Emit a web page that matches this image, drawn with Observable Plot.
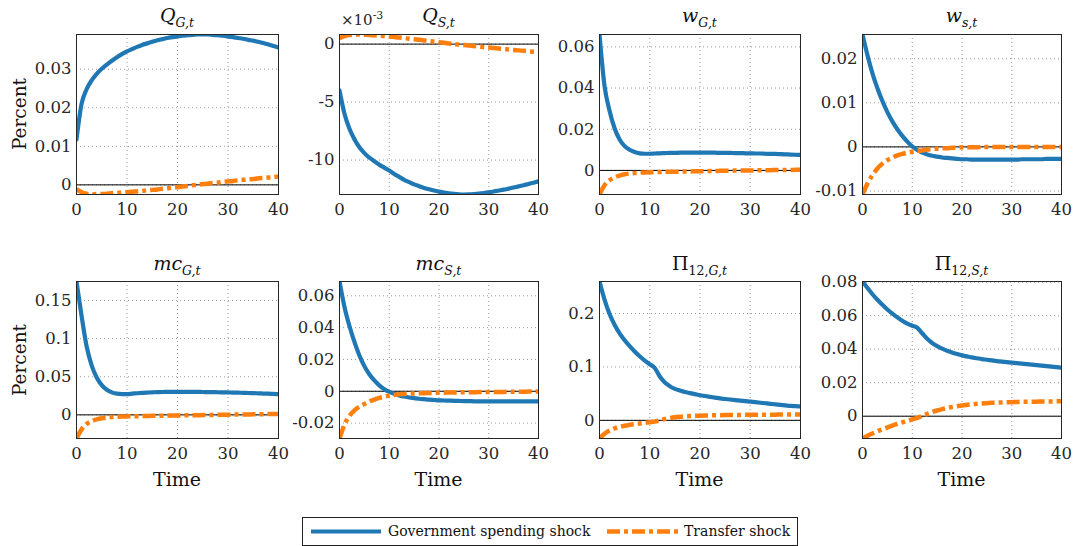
<!DOCTYPE html>
<html>
<head>
<meta charset="utf-8">
<script src="https://cdn.jsdelivr.net/npm/d3@7"></script>
<script src="https://cdn.jsdelivr.net/npm/@observablehq/plot@0.6"></script>
<style>
  html, body { margin: 0; padding: 0; background: #fff; }
  #wrap { position: relative; width: 1075px; height: 546px; background: #fff; overflow: hidden; font-family: "DejaVu Serif", serif; color: #262626; }
  .panel { position: absolute; }
  .ttl { position: absolute; transform: translateX(-50%); font-size: 19px; line-height: 24px; white-space: nowrap; color: #111; }
  .ttl i { font-style: italic; }
  .ttl sub { font-size: 12.5px; vertical-align: -5px; line-height: 0; }
  .ylab { position: absolute; font-size: 18.5px; transform: translate(-50%, -50%) rotate(-90deg); white-space: nowrap; color: #111; }
  .xlab { position: absolute; font-size: 19px; transform: translate(-50%, -50%); white-space: nowrap; color: #111; }
  .expo { position: absolute; font-size: 15px; white-space: nowrap; color: #262626; }
  .expo sup { font-size: 11px; vertical-align: 6px; line-height: 0; }
  #legend { position: absolute; left: 302px; top: 517px; width: 496px; height: 29px; box-sizing: border-box; border: 1px solid #222; background: #fff; font-size: 14px; color: #111; }
  #legend span { position: absolute; top: 5px; white-space: nowrap; }
  #legend svg { position: absolute; top: 0; left: 0; }
</style>
</head>
<body>
<div id="wrap"></div>
<script>
// ---------- data ----------
const periods = [0,1,2,3,4,5,6,7,8,9,10,11,12,13,14,15,16,17,18,19,20,21,22,23,24,25,26,27,28,29,30,31,32,33,34,35,36,37,38,39,40];
const xTicks = [0, 10, 20, 30, 40];
const seriesNames = ["Government spending shock", "Transfer shock"];

const qG_gov = [.0118,.0210,.0248,.0271,.0288,.0301,.0312,.0322,.0331,.0339,.0346,.0352,.0358,.0363,.0367,.0371,.0375,.0378,.0381,.0383,.0385,.0387,.0388,.0389,.0390,.0390,.0390,.0389,.0388,.0387,.0385,.0383,.0381,.0379,.0376,.0374,.0371,.0368,.0364,.0360,.0356];
const qG_tr = [-.0011,-.0019,-.0023,-.0025,-.0024,-.0024,-.0023,-.0022,-.0021,-.0020,-.0019,-.0018,-.0017,-.0016,-.0014,-.0013,-.0012,-.0010,-.0009,-.0007,-.0006,-.0004,-.0003,-.0001,.0000,.0002,.0003,.0005,.0006,.0008,.0009,.0010,.0012,.0013,.0014,.0015,.0017,.0018,.0019,.0020,.0022];

// Q_S in units of 10^-3
const qS_gov = [-4.0,-6.0,-7.3,-8.2,-8.9,-9.4,-9.8,-10.1,-10.4,-10.65,-10.9,-11.2,-11.45,-11.7,-11.9,-12.1,-12.25,-12.4,-12.52,-12.63,-12.72,-12.8,-12.86,-12.91,-12.95,-12.97,-12.96,-12.93,-12.89,-12.84,-12.78,-12.71,-12.63,-12.55,-12.46,-12.37,-12.27,-12.17,-12.06,-11.95,-11.84];
const qS_tr = [.50,.70,.79,.83,.83,.81,.79,.76,.73,.69,.65,.61,.57,.52,.47,.42,.37,.32,.27,.21,.16,.11,.06,.01,-.04,-.08,-.13,-.17,-.22,-.26,-.30,-.34,-.38,-.42,-.46,-.50,-.54,-.58,-.62,-.66,-.70];

const wG_gov = [.0660,.0410,.0290,.0205,.0150,.0118,.0100,.0089,.0083,.0081,.0081,.0082,.0083,.0084,.0085,.0085,.0086,.0086,.0086,.0086,.0086,.0086,.0086,.0086,.0085,.0085,.0085,.0084,.0084,.0083,.0083,.0082,.0082,.0081,.0080,.0080,.0079,.0078,.0077,.0076,.0075];
const wG_tr = [-.0117,-.0072,-.0048,-.0034,-.0025,-.0019,-.0015,-.0013,-.0011,-.0010,-.0009,-.0008,-.0008,-.0007,-.0007,-.0006,-.0006,-.0005,-.0005,-.0004,-.0004,-.0004,-.0003,-.0003,-.0002,-.0002,-.0002,-.0001,-.0001,.0000,.0000,.0000,.0001,.0001,.0001,.0002,.0002,.0002,.0002,.0003,.0003];

const ws_gov = [.0255,.0208,.0167,.0133,.0104,.0079,.0058,.0040,.0025,.0012,.0001,-.0007,-.0013,-.0017,-.0020,-.0022,-.0024,-.0025,-.0026,-.0027,-.0028,-.0028,-.0029,-.0029,-.0029,-.0029,-.0029,-.0029,-.0029,-.0029,-.0029,-.0029,-.0028,-.0028,-.0028,-.0028,-.0028,-.0027,-.0027,-.0027,-.0027];
const ws_tr = [-.0108,-.0083,-.0064,-.0049,-.0038,-.0030,-.0024,-.0019,-.0016,-.0013,-.0011,-.0009,-.0008,-.0006,-.0005,-.0004,-.0003,-.0003,-.0002,-.0002,-.0001,-.0001,-.0001,-.0001,.0000,.0000,.0000,.0000,.0000,.0000,.0000,.0000,.0000,.0000,.0000,.0000,.0000,.0000,.0000,.0000,.0000];

const mcG_gov = [.175,.130,.090,.065,.049,.039,.033,.0295,.0278,.0272,.0273,.0278,.0284,.0289,.0293,.0296,.0298,.0300,.0301,.0302,.0302,.0302,.0302,.0302,.0301,.0300,.0299,.0298,.0297,.0296,.0294,.0293,.0291,.0289,.0287,.0285,.0283,.0280,.0278,.0275,.0272];
const mcG_tr = [-.031,-.019,-.012,-.0082,-.0058,-.0044,-.0035,-.0029,-.0025,-.0022,-.0020,-.0018,-.0017,-.0015,-.0014,-.0013,-.0012,-.0011,-.0010,-.0009,-.0008,-.0007,-.0006,-.0005,-.0004,-.0003,-.0002,-.0001,.0000,.0001,.0002,.0003,.0004,.0005,.0006,.0007,.0008,.0009,.0010,.0010,.0011];

const mcS_gov = [.069,.053,.041,.031,.0225,.0158,.0107,.0068,.0037,.0013,-.0004,-.0016,-.0026,-.0033,-.0039,-.0043,-.0047,-.0050,-.0053,-.0055,-.0057,-.0058,-.0059,-.0060,-.0061,-.0062,-.0062,-.0063,-.0063,-.0064,-.0064,-.0064,-.0064,-.0064,-.0064,-.0064,-.0064,-.0064,-.0064,-.0064,-.0063];
const mcS_tr = [-.0297,-.0210,-.0155,-.0120,-.0097,-.0080,-.0064,-.0052,-.0042,-.0034,-.0028,-.0023,-.0019,-.0017,-.0015,-.0014,-.0013,-.0012,-.0011,-.0010,-.0009,-.0009,-.0008,-.0008,-.0007,-.0007,-.0006,-.0006,-.0005,-.0005,-.0005,-.0004,-.0004,-.0004,-.0003,-.0003,-.0003,-.0003,-.0002,-.0002,-.0002];

const piG_gov = [.260,.226,.199,.179,.163,.150,.139,.129,.120,.112,.105,.098,.082,.071,.064,.059,.056,.053,.051,.049,.047,.0455,.044,.0425,.041,.040,.039,.038,.037,.036,.035,.034,.033,.032,.031,.030,.029,.028,.027,.0265,.026];
const piG_tr = [-.034,-.025,-.019,-.015,-.012,-.010,-.0085,-.0072,-.0060,-.0048,-.0036,-.0024,.0000,.0025,.0042,.0057,.0067,.0074,.0080,.0084,.0088,.0091,.0093,.0095,.0097,.0099,.0100,.0101,.0102,.0103,.0104,.0105,.0106,.0106,.0107,.0107,.0108,.0108,.0109,.0109,.0110];

const piS_gov = [.0804,.0765,.0728,.0695,.0665,.0637,.0612,.0590,.0570,.0553,.0540,.0528,.0495,.0462,.0437,.0418,.0403,.0391,.0380,.0371,.0363,.0357,.0351,.0346,.0341,.0337,.0333,.0329,.0326,.0323,.0320,.0317,.0314,.0311,.0308,.0305,.0302,.0299,.0296,.0293,.0290];
const piS_tr = [-.0133,-.0117,-.0103,-.0090,-.0078,-.0067,-.0056,-.0046,-.0037,-.0028,-.0019,-.0010,.0002,.0014,.0025,.0034,.0042,.0049,.0055,.0060,.0064,.0068,.0071,.0074,.0076,.0078,.0080,.0081,.0082,.0083,.0084,.0085,.0086,.0086,.0087,.0087,.0088,.0088,.0088,.0089,.0089];

const yTicks = [
  [0, 0.01, 0.02, 0.03],
  [-10, -5, 0],
  [0, 0.02, 0.04, 0.06],
  [-0.01, 0, 0.01, 0.02],
  [0, 0.05, 0.1, 0.15],
  [-0.02, 0, 0.02, 0.04, 0.06],
  [0, 0.1, 0.2],
  [0, 0.02, 0.04, 0.06, 0.08]
];
const titles = [
  ["<i>Q</i>", "<i>G,t</i>"],
  ["<i>Q</i>", "<i>S,t</i>"],
  ["<i>w</i>", "<i>G,t</i>"],
  ["<i>w</i>", "<i>s,t</i>"],
  ["<i>mc</i>", "<i>G,t</i>"],
  ["<i>mc</i>", "<i>S,t</i>"],
  ["Π", "12,<i>G,t</i>"],
  ["Π", "12,<i>S,t</i>"]
];
const govSeries = [qG_gov, qS_gov, wG_gov, ws_gov, mcG_gov, mcS_gov, piG_gov, piS_gov];
const trSeries  = [qG_tr, qS_tr, wG_tr, ws_tr, mcG_tr, mcS_tr, piG_tr, piS_tr];

// ---------- layout ----------
const colL = [76, 339, 599, 862], colR = [278, 538, 800, 1061];
const rowT = [34, 281], rowB = [194, 438];
const mL = 62, mR = 18, mT = 6, mB = 40;
const BLUE = "#1f77b4", ORANGE = "#ff7f0e";
const DASH = "13,4,4,4";
const FONT = "\"DejaVu Serif\", serif";

const wrap = document.getElementById("wrap");

for (let i = 0; i < 8; i++) {
  const c = i % 4, r = Math.floor(i / 4);
  const L = colL[c], R = colR[c], T = rowT[r], B = rowB[r];
  const gov = periods.map((t, k) => ({t, v: govSeries[i][k]}));
  const tr = periods.map((t, k) => ({t, v: trSeries[i][k]}));
  const ext = d3.extent([...govSeries[i], ...trSeries[i]]);
  const plot = Plot.plot({
    width: R - L + mL + mR,
    height: B - T + mT + mB,
    marginLeft: mL, marginRight: mR, marginTop: mT, marginBottom: mB,
    style: {fontFamily: FONT, fontSize: "16.5px", color: "#262626", background: "transparent", overflow: "visible"},
    x: {domain: [0, 40]},
    y: {domain: ext},
    marks: [
      Plot.gridX(xTicks, {stroke: "#9a9a9a", strokeOpacity: 1, strokeDasharray: "1,3"}),
      Plot.gridY(yTicks[i], {stroke: "#9a9a9a", strokeOpacity: 1, strokeDasharray: "1,3"}),
      Plot.ruleY([0], {stroke: "#000", strokeWidth: 1}),
      Plot.line(gov, {x: "t", y: "v", stroke: BLUE, strokeWidth: 4.2, curve: "monotone-x", clip: true}),
      Plot.line(tr, {x: "t", y: "v", stroke: ORANGE, strokeWidth: 4.5, strokeDasharray: DASH, strokeLinecap: "butt", curve: "monotone-x", clip: true}),
      Plot.frame({stroke: "#262626", strokeWidth: 1}),
      Plot.axisX(xTicks, {tickSize: 0, tickPadding: 9, tickFormat: d => String(d), label: null, fontSize: 16.5, fill: "#262626"}),
      Plot.axisY(yTicks[i], {tickSize: 0, tickPadding: 5, tickFormat: d => String(d), label: null, fontSize: 16.5, fill: "#262626"})
    ]
  });
  plot.classList.add("panel");
  plot.style.left = (L - mL) + "px";
  plot.style.top = (T - mT) + "px";
  wrap.appendChild(plot);

  const t = document.createElement("div");
  t.className = "ttl";
  t.style.left = ((L + R) / 2) + "px";
  t.style.top = (r === 0 ? 3 : 251) + "px";
  t.innerHTML = titles[i][0] + "<sub>" + titles[i][1] + "</sub>";
  wrap.appendChild(t);

  if (c === 0) {
    const yl = document.createElement("div");
    yl.className = "ylab";
    yl.style.left = "19px";
    yl.style.top = ((T + B) / 2) + "px";
    yl.textContent = "Percent";
    wrap.appendChild(yl);
  }
  if (r === 1) {
    const xl = document.createElement("div");
    xl.className = "xlab";
    xl.style.left = ((L + R) / 2) + "px";
    xl.style.top = "479px";
    xl.textContent = "Time";
    wrap.appendChild(xl);
  }
}

// exponent label for Q_S panel
const ex = document.createElement("div");
ex.className = "expo";
ex.style.left = "341px";
ex.style.top = "11px";
ex.innerHTML = "×10<sup>-3</sup>";
wrap.appendChild(ex);

// legend
const lg = document.createElement("div");
lg.id = "legend";
lg.innerHTML = `<svg width="494" height="27">
  <line x1="8" x2="78" y1="13.5" y2="13.5" stroke="${BLUE}" stroke-width="4.2"/>
  <line x1="304" x2="376" y1="13.5" y2="13.5" stroke="${ORANGE}" stroke-width="4.5" stroke-dasharray="${DASH}"/>
</svg>
<span style="left:85px">${seriesNames[0]}</span>
<span style="left:381px">${seriesNames[1]}</span>`;
wrap.appendChild(lg);
</script>
</body>
</html>
